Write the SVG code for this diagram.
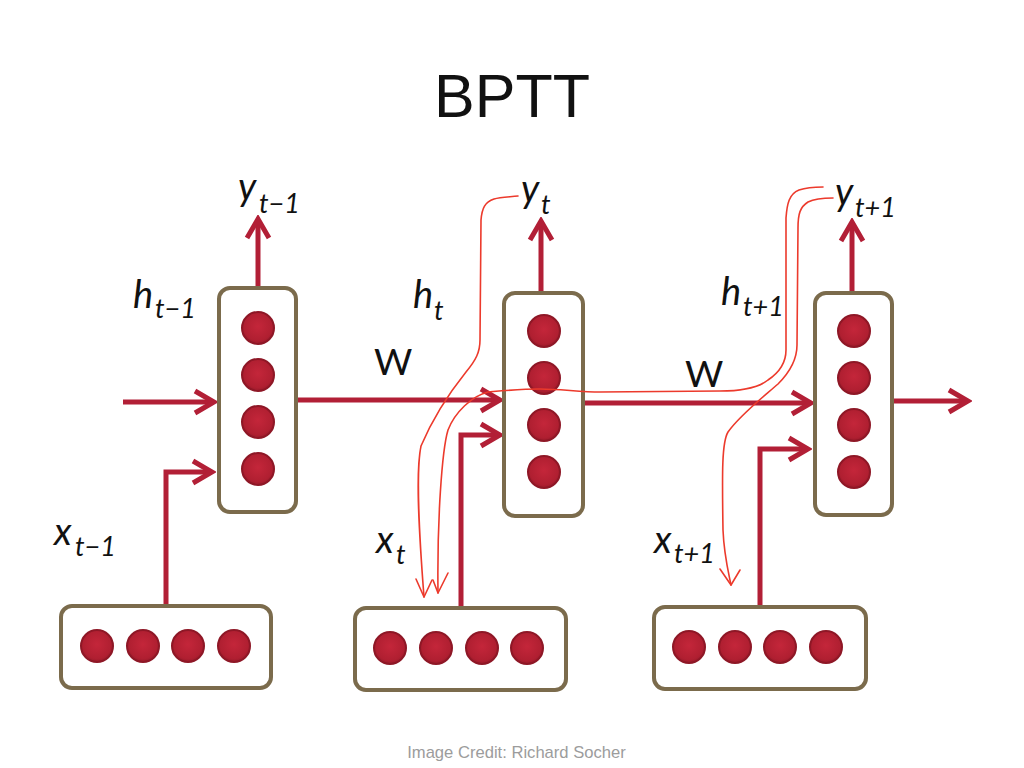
<svg xmlns="http://www.w3.org/2000/svg" width="1024" height="768" viewBox="0 0 1024 768">
<style>
.box{fill:#fff;stroke:#7b6b4c;stroke-width:4}
.dot{fill:url(#dg);stroke:#8e1726;stroke-width:2}
.arr{fill:none;stroke:#b21f36;stroke-width:5;marker-end:url(#ah)}
.hand{fill:none;stroke:#ec3a2c;stroke-width:1.6;stroke-linecap:round;stroke-linejoin:round}
.lbl{font-family:Lato,"Open Sans",sans-serif;font-style:italic;fill:#111}
.big{font-size:38px}
.sub{font-size:27px}
.w{font-family:Lato,"Open Sans",sans-serif;font-size:37px;fill:#111}
</style>
<defs>
<radialGradient id="dg" cx="0.5" cy="0.45" r="0.55">
<stop offset="0" stop-color="#c4263a"/>
<stop offset="0.8" stop-color="#b01f31"/>
<stop offset="1" stop-color="#9a1a2a"/>
</radialGradient>
<marker id="ah" markerUnits="userSpaceOnUse" viewBox="-26 -16 30 32" refX="0" refY="0" markerWidth="30" markerHeight="32" orient="auto">
<path d="M-19,-11 L0,0 L-19,11" fill="none" stroke="#b21f36" stroke-width="5" stroke-linejoin="miter"/>
</marker>
</defs>
<rect width="1024" height="768" fill="#fff"/>
<text x="512" y="117" text-anchor="middle" font-family="Liberation Sans,Arial,sans-serif" font-size="61" fill="#111">BPTT</text>

<g id="connectors">
<path class="arr" d="M123,402 H214"/>
<path class="arr" d="M297,400 H500"/>
<path class="arr" d="M583,403 H811"/>
<path class="arr" d="M893,401 H968"/>
<path class="arr" d="M258,288 V219"/>
<path class="arr" d="M541,293 V221"/>
<path class="arr" d="M852,293 V222"/>
<path class="arr" d="M166,606 V472 H212"/>
<path class="arr" d="M461,608 V435 H500"/>
<path class="arr" d="M760,607 V449 H808"/>
</g>

<g id="h1">
<rect class="box" x="219" y="288" width="77" height="224" rx="11"/>
<circle class="dot" cx="258" cy="328" r="16"/>
<circle class="dot" cx="258" cy="375" r="16"/>
<circle class="dot" cx="258" cy="422" r="16"/>
<circle class="dot" cx="258" cy="469" r="16"/>
</g>
<g id="h2">
<rect class="box" x="504" y="293" width="79" height="223" rx="11"/>
<circle class="dot" cx="544" cy="331" r="16"/>
<circle class="dot" cx="544" cy="378" r="16"/>
<circle class="dot" cx="544" cy="425" r="16"/>
<circle class="dot" cx="544" cy="472" r="16"/>
</g>
<g id="h3">
<rect class="box" x="815" y="293" width="77" height="222" rx="11"/>
<circle class="dot" cx="854" cy="331" r="16"/>
<circle class="dot" cx="854" cy="378" r="16"/>
<circle class="dot" cx="854" cy="425" r="16"/>
<circle class="dot" cx="854" cy="472" r="16"/>
</g>
<g id="x1">
<rect class="box" x="61" y="606" width="210" height="82" rx="11"/>
<circle class="dot" cx="97" cy="646" r="16"/>
<circle class="dot" cx="143" cy="646" r="16"/>
<circle class="dot" cx="188" cy="646" r="16"/>
<circle class="dot" cx="234" cy="646" r="16"/>
</g>
<g id="x2">
<rect class="box" x="355" y="608" width="211" height="82" rx="11"/>
<circle class="dot" cx="390" cy="648" r="16"/>
<circle class="dot" cx="436" cy="648" r="16"/>
<circle class="dot" cx="482" cy="648" r="16"/>
<circle class="dot" cx="527" cy="648" r="16"/>
</g>
<g id="x3">
<rect class="box" x="654" y="607" width="212" height="82" rx="11"/>
<circle class="dot" cx="689" cy="647" r="16"/>
<circle class="dot" cx="735" cy="647" r="16"/>
<circle class="dot" cx="780" cy="647" r="16"/>
<circle class="dot" cx="826" cy="647" r="16"/>
</g>

<g id="backprop">
<path class="hand" d="M518,196 C508,197 500,197 494,199 C485,202 482,208 481,220 L480,340 C480,352 476,360 466,372 C450,392 432,420 421,446 C416,470 418,520 424,597"/>
<path class="hand" d="M416,579 L424,597 L432,580"/>
<path class="hand" d="M823,187 C812,187 805,188 799,190 C789,194 787,204 786,218 L786,350 C786,362 780,372 768,380 C758,388 740,391 720,391 L600,392 C580,392 560,389 540,389 C520,389 500,391 488,392 C472,396 455,412 448,430 C442,450 437,520 438,593"/>
<path class="hand" d="M433,580 L438,593 L448,573"/>
<path class="hand" d="M833,198 C822,198 814,199 808,202 C800,207 798,214 798,228 L797,345 C797,360 790,372 778,384 C762,398 740,415 728,432 C722,442 722,470 723,530 C724,555 728,570 731,585"/>
<path class="hand" d="M720,569 L731,585 L740,570"/>
</g>

<g id="labels">
<text class="lbl big" x="238" y="200">y</text><text class="lbl sub" x="259" y="213">t−1</text>
<text class="lbl big" x="521" y="202">y</text><text class="lbl sub" x="541" y="214">t</text>
<text class="lbl big" x="835" y="205">y</text><text class="lbl sub" x="855" y="217">t+1</text>
<text class="lbl big" x="133" y="308">h</text><text class="lbl sub" x="155" y="318">t−1</text>
<text class="lbl big" x="413" y="308">h</text><text class="lbl sub" x="434" y="320">t</text>
<text class="lbl big" x="721" y="305">h</text><text class="lbl sub" x="743" y="316">t+1</text>
<text class="w" x="374" y="375">W</text>
<text class="w" x="685" y="387">W</text>
<text class="lbl big" x="54" y="545">x</text><text class="lbl sub" x="75" y="556">t−1</text>
<text class="lbl big" x="376" y="553">x</text><text class="lbl sub" x="396" y="564">t</text>
<text class="lbl big" x="654" y="553">x</text><text class="lbl sub" x="674" y="563">t+1</text>
</g>

<text x="516.5" y="758" text-anchor="middle" font-family="Liberation Sans,Arial,sans-serif" font-size="16.6" fill="#9c9c9c">Image Credit: Richard Socher</text>
</svg>
